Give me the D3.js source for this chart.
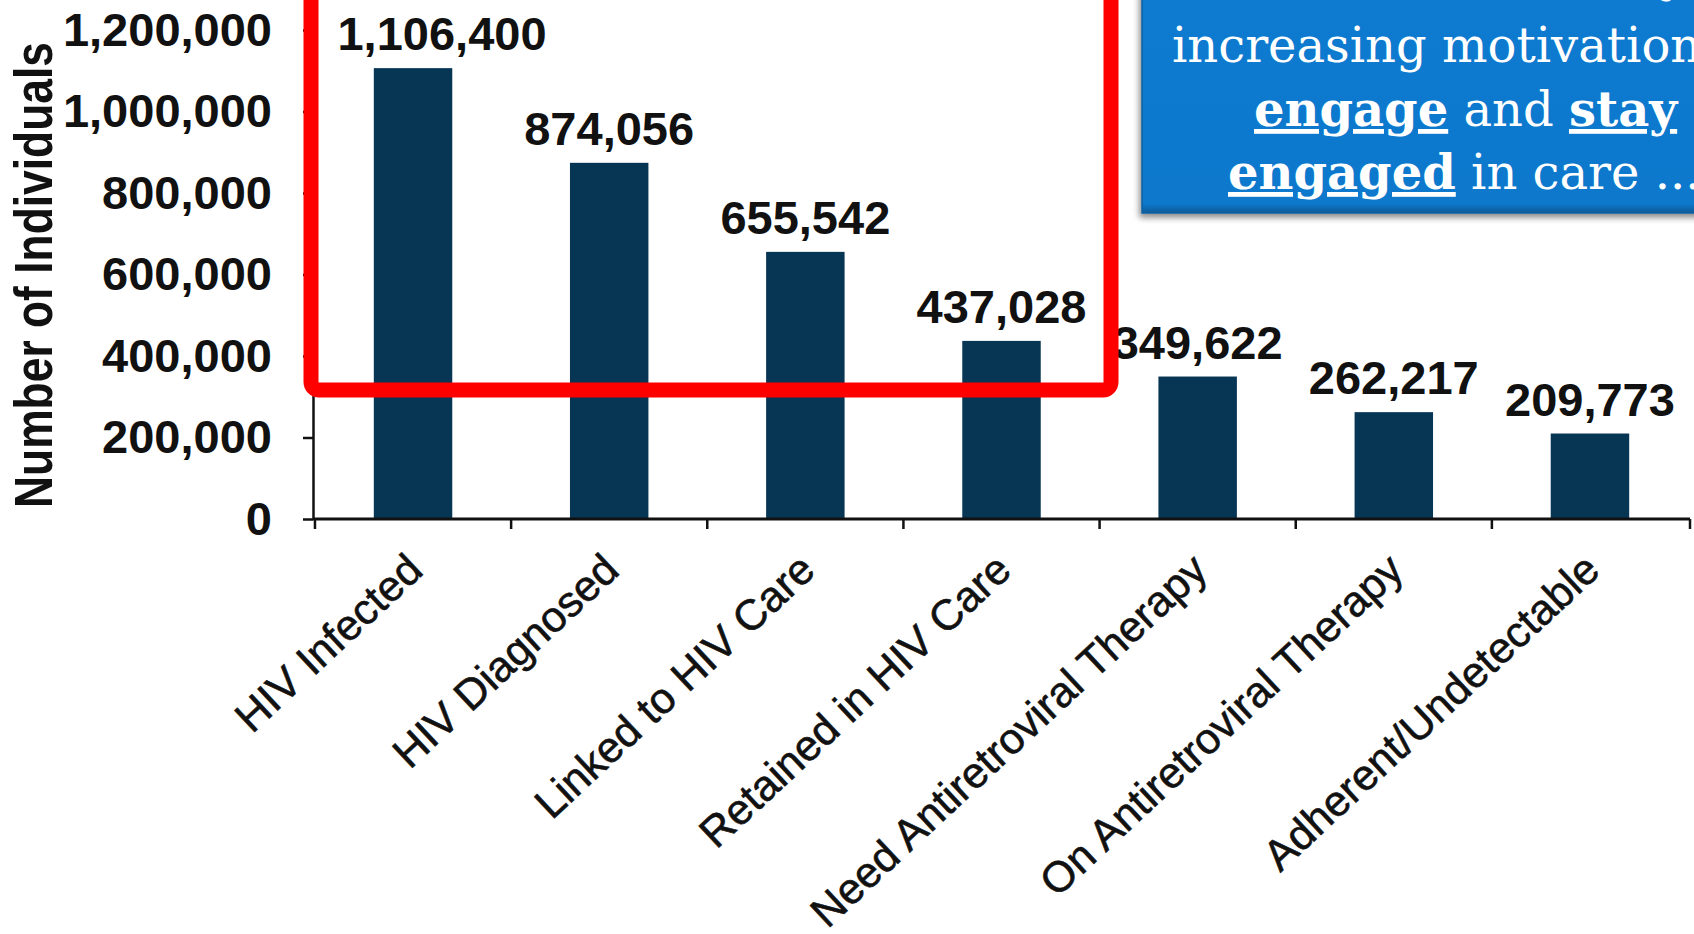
<!DOCTYPE html>
<html>
<head>
<meta charset="utf-8">
<script src="https://cdn.jsdelivr.net/npm/d3@7"></script>
<style>
  html, body { margin: 0; padding: 0; background: #ffffff; overflow: hidden; }
  svg { display: block; }
</style>
</head>
<body>
<script>
// HIV care continuum: number of individuals at each stage
const categories = [
  "HIV Infected",
  "HIV Diagnosed",
  "Linked to HIV Care",
  "Retained in HIV Care",
  "Need Antiretroviral Therapy",
  "On Antiretroviral Therapy",
  "Adherent/Undetectable"
];
const individuals = [1106400, 874056, 655542, 437028, 349622, 262217, 209773];
const yTicks = [0, 200000, 400000, 600000, 800000, 1000000, 1200000];
const yTitle = "Number of Individuals";

// Callout text lines; each line is a list of [text, emphasised]
const calloutLines = [
  [["y", false]],
  [["increasing motivation", false]],
  [["engage", true], [" and ", false], ["stay", true]],
  [["engaged", true], [" in care ...", false]]
];

const W = 1694, H = 934;
const svg = d3.select("body").append("svg").attr("width", W).attr("height", H);

const x = d3.scaleBand().domain(categories).range([313, 1690])
  .paddingInner(0.6).paddingOuter(0.31);
const y = d3.scaleLinear().domain([0, 1200000]).range([519, 30]);

const sans = "'Liberation Sans', Arial, sans-serif";
const ink = "#111111";
const barColor = "#073554";

// Bars
svg.append("g").selectAll("rect")
  .data(categories)
  .join("rect")
  .attr("x", (d) => x(d))
  .attr("width", x.bandwidth())
  .attr("y", (d, i) => y(individuals[i]))
  .attr("height", (d, i) => y(0) - y(individuals[i]))
  .attr("fill", barColor);

// Value labels above bars
svg.append("g").selectAll("text")
  .data(categories)
  .join("text")
  .attr("x", (d, i) => x(d) + x.bandwidth() / 2 + (i === 0 ? 29 : 0))
  .attr("y", (d, i) => y(individuals[i]) - 18)
  .attr("text-anchor", "middle")
  .attr("font-family", sans)
  .attr("font-weight", "bold")
  .attr("font-size", 47)
  .attr("fill", ink)
  .text((d, i) => d3.format(",")(individuals[i]));

// Y axis
const yAxis = svg.append("g")
  .attr("transform", `translate(${x.range()[0]},0)`)
  .call(d3.axisLeft(y).tickValues(yTicks).tickFormat(d3.format(","))
    .tickSize(10).tickSizeOuter(0).tickPadding(31));
yAxis.select(".domain").attr("stroke", ink).attr("stroke-width", 2.5);
yAxis.selectAll(".tick line").attr("stroke", ink).attr("stroke-width", 2.5);
yAxis.selectAll(".tick text")
  .attr("font-family", sans).attr("font-weight", "bold")
  .attr("font-size", 47).attr("fill", ink);

// X axis: baseline, boundary ticks between categories, slanted labels
const step = x.step();
const gap = step - x.bandwidth();
const bounds = categories.map((c) => x(c) - gap / 2).concat([x.range()[1]]);
const xAxis = svg.append("g");
xAxis.append("line")
  .attr("x1", x.range()[0]).attr("x2", x.range()[1])
  .attr("y1", y(0)).attr("y2", y(0))
  .attr("stroke", ink).attr("stroke-width", 3);
xAxis.selectAll("line.tick")
  .data(bounds)
  .join("line")
  .attr("class", "tick")
  .attr("x1", (d) => d).attr("x2", (d) => d)
  .attr("y1", y(0)).attr("y2", y(0) + 10)
  .attr("stroke", ink).attr("stroke-width", 2.5);
xAxis.selectAll("text")
  .data(categories)
  .join("text")
  .attr("transform", (d) => `translate(${x(d) + x.bandwidth() / 2 + 12},${y(0) + 54}) rotate(-43)`)
  .attr("text-anchor", "end")
  .attr("font-family", sans)
  .attr("font-size", 43)
  .attr("fill", ink)
  .attr("stroke", ink)
  .attr("stroke-width", 0.6)
  .text((d) => d);

// Y axis title
svg.append("text")
  .attr("transform", "translate(52,275) rotate(-90)")
  .attr("text-anchor", "middle")
  .attr("font-family", sans)
  .attr("font-weight", "bold")
  .attr("font-size", 53)
  .attr("textLength", 466)
  .attr("lengthAdjust", "spacingAndGlyphs")
  .attr("fill", ink)
  .text(yTitle);

// Red highlight frame around the first four stages
svg.append("rect")
  .attr("x", 311).attr("y", -60)
  .attr("width", 800).attr("height", 450)
  .attr("rx", 8)
  .attr("fill", "none")
  .attr("stroke", "#ff0000")
  .attr("stroke-width", 15);

// Blue callout box
const defs = svg.append("defs");
const shadow = defs.append("filter").attr("id", "boxShadow")
  .attr("x", "-10%").attr("y", "-10%").attr("width", "130%").attr("height", "130%");
shadow.append("feGaussianBlur").attr("in", "SourceAlpha").attr("stdDeviation", 3).attr("result", "blur");
shadow.append("feOffset").attr("in", "blur").attr("dx", -2).attr("dy", 4).attr("result", "off");
shadow.append("feComponentTransfer").attr("in", "off").attr("result", "soft")
  .append("feFuncA").attr("type", "linear").attr("slope", 0.45);
const merge = shadow.append("feMerge");
merge.append("feMergeNode").attr("in", "soft");
merge.append("feMergeNode").attr("in", "SourceGraphic");

const bevel = defs.append("linearGradient").attr("id", "boxBevel")
  .attr("x1", 0).attr("y1", 0).attr("x2", 0).attr("y2", 1);
bevel.append("stop").attr("offset", "0%").attr("stop-color", "#0a7bd1");
bevel.append("stop").attr("offset", "96%").attr("stop-color", "#0878cc");
bevel.append("stop").attr("offset", "100%").attr("stop-color", "#0a5a96");

const box = svg.append("g");
box.append("rect")
  .attr("x", 1142).attr("y", -20)
  .attr("width", 600).attr("height", 233)
  .attr("fill", "url(#boxBevel)")
  .attr("stroke", "#0b5f9f").attr("stroke-width", 1.5)
  .attr("filter", "url(#boxShadow)");

const lineStarts = [1660, 1172, 1254, 1228];
const lineBaselines = [-9, 62, 126, 189];
const serif = "'DejaVu Serif', 'Liberation Serif', serif";
calloutLines.forEach((parts, li) => {
  const t = box.append("text")
    .attr("x", lineStarts[li]).attr("y", lineBaselines[li])
    .attr("font-family", serif)
    .attr("font-size", 48)
    .attr("fill", "#ffffff")
    .attr("xml:space", "preserve")
    .style("white-space", "pre");
  parts.forEach(([txt, strong]) => {
    t.append("tspan")
      .attr("font-weight", strong ? "bold" : "normal")
      .attr("text-decoration", strong ? "underline" : null)
      .text(txt);
  });
});
</script>
</body>
</html>
